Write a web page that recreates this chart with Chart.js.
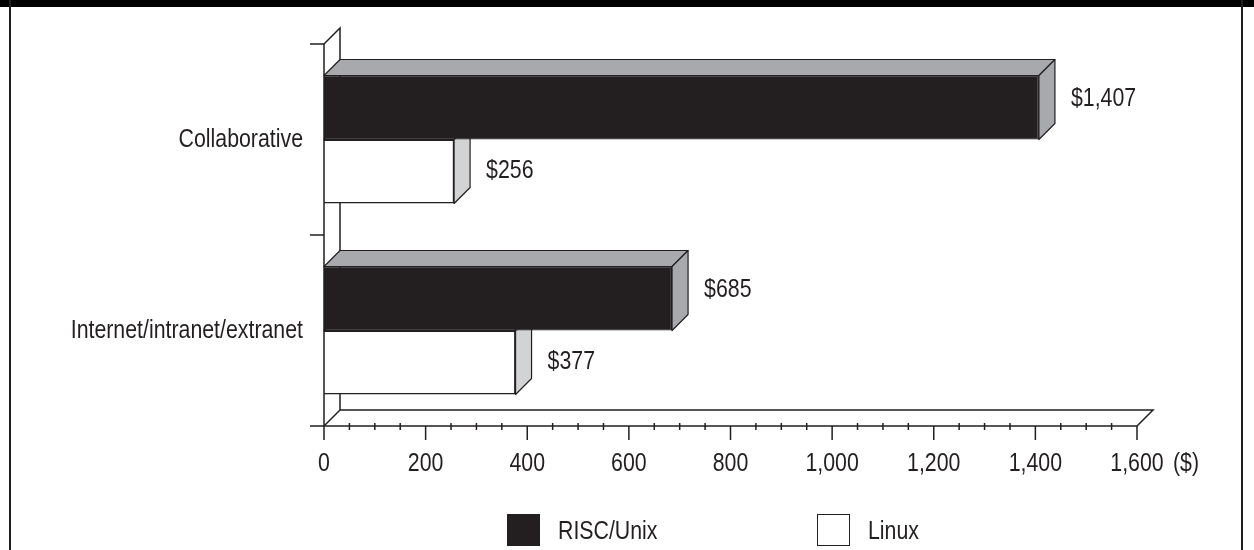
<!DOCTYPE html>
<html>
<head>
<meta charset="utf-8">
<script src="https://cdn.jsdelivr.net/npm/chart.js@4.4.1/dist/chart.umd.min.js"></script>
<style>
  html, body { margin: 0; padding: 0; background: #fff; }
  #wrap { position: relative; width: 1254px; height: 550px; overflow: hidden; background: #fff; }
  #chart { position: absolute; left: 0; top: 0; }
  .band { position: absolute; left: 0; top: 0; width: 1254px; height: 7px; background: #000; }
  .edge { position: absolute; top: 0; width: 2px; height: 550px; background: #231f20; }
  .legend { position: absolute; top: 514px; font: 26px 'Liberation Sans', Arial, sans-serif; color: #231f20; }
  .legend .box { position: absolute; left: 0; top: 0; width: 33px; height: 32px; box-sizing: border-box; }
  .legend .txt { position: absolute; left: 51px; top: 0; line-height: 32px; white-space: nowrap;
                 transform: scaleX(0.82); transform-origin: left center; }
</style>
</head>
<body>
<div id="wrap">
  <canvas id="chart" width="1254" height="550"></canvas>
  <div class="band"></div>
  <div class="edge" style="left:9px"></div>
  <div class="edge" style="left:1241px"></div>
  <div class="legend" style="left:507px"><div class="box" style="background:#231f20"></div><div class="txt">RISC/Unix</div></div>
  <div class="legend" style="left:817px"><div class="box" style="background:#fff;border:1.5px solid #231f20"></div><div class="txt">Linux</div></div>
</div>
<script>
const categories = ["Collaborative", "Internet/intranet/extranet"];
const seriesNames = ["RISC/Unix", "Linux"];
const riscUnix = [1407, 685];
const linux = [256, 377];
const xTickValues = [0, 200, 400, 600, 800, 1000, 1200, 1400, 1600];
const xUnit = "($)";

const FONT = "'Liberation Sans', Arial, sans-serif";
const INK = "#231f20";
const DEPTH = 16;
const NARROW = 0.82;   // horizontal squeeze for all canvas text

// face colours for each dataset
const shades = [
    { top: "#a7a9ac", side: "#a7a9ac", labelShift: -9 },
    { top: "#d1d3d4", side: "#d1d3d4", labelShift: -1 }
];

function money(v) {
    return "$" + v.toLocaleString("en-US");
}

function poly(ctx, pts, fill) {
    ctx.beginPath();
    ctx.moveTo(pts[0][0], pts[0][1]);
    for (let i = 1; i < pts.length; i++) ctx.lineTo(pts[i][0], pts[i][1]);
    ctx.closePath();
    ctx.fillStyle = fill;
    ctx.fill();
    ctx.stroke();
}

const box3d = {
    id: "box3d",
    beforeDatasetsDraw(chart) {
        // back wall and floor outline
        const { ctx, chartArea: a } = chart;
        ctx.save();
        ctx.strokeStyle = INK;
        ctx.lineWidth = 1.5;
        ctx.beginPath();
        ctx.moveTo(a.left, a.top);
        ctx.lineTo(a.left + DEPTH, a.top - DEPTH);
        ctx.lineTo(a.left + DEPTH, a.bottom - DEPTH);
        ctx.lineTo(a.right + DEPTH, a.bottom - DEPTH);
        ctx.lineTo(a.right, a.bottom);
        ctx.moveTo(a.left + DEPTH, a.bottom - DEPTH);
        ctx.lineTo(a.left, a.bottom);
        ctx.stroke();
        ctx.restore();
    },
    afterDatasetDraw(chart, args) {
        const ctx = chart.ctx;
        const shade = shades[args.index];
        ctx.save();
        ctx.strokeStyle = INK;
        ctx.lineWidth = 1.2;
        ctx.lineJoin = "round";
        args.meta.data.forEach(bar => {
            const p = bar.getProps(["x", "y", "base", "height"], true);
            const t = p.y - p.height / 2;
            const b = p.y + p.height / 2;
            poly(ctx, [[p.base, t], [p.base + DEPTH, t - DEPTH], [p.x + DEPTH, t - DEPTH], [p.x, t]], shade.top);
            poly(ctx, [[p.x, t], [p.x + DEPTH, t - DEPTH], [p.x + DEPTH, b - DEPTH], [p.x, b]], shade.side);
        });
        ctx.restore();
    },
    afterDraw(chart) {
        const { ctx, chartArea: a, scales } = chart;
        const xs = scales.x;
        ctx.save();
        ctx.strokeStyle = INK;
        ctx.lineWidth = 1.5;
        ctx.beginPath();
        // value axis with major and minor ticks
        ctx.moveTo(a.left - 14, a.bottom);
        ctx.lineTo(a.right, a.bottom);
        const last = xTickValues[xTickValues.length - 1];
        const step = xTickValues[1] - xTickValues[0];
        for (let v = 0; v <= last; v += step / 4) {
            const px = xs.getPixelForValue(v);
            if (v % step === 0) {
                ctx.moveTo(px, a.bottom);
                ctx.lineTo(px, a.bottom + 14);
            } else {
                ctx.moveTo(px, a.bottom - 3);
                ctx.lineTo(px, a.bottom + 4);
            }
        }
        // category axis with boundary ticks
        ctx.moveTo(a.left, a.top);
        ctx.lineTo(a.left, a.bottom);
        const n = categories.length;
        for (let i = 0; i <= n; i++) {
            const py = a.top + i * (a.bottom - a.top) / n;
            ctx.moveTo(a.left - 14, py);
            ctx.lineTo(a.left, py);
        }
        ctx.stroke();

        // value labels beside each bar
        ctx.fillStyle = INK;
        ctx.font = "26px " + FONT;
        ctx.textAlign = "left";
        ctx.textBaseline = "middle";
        chart.data.datasets.forEach((ds, di) => {
            chart.getDatasetMeta(di).data.forEach((bar, i) => {
                ctx.fillText(money(ds.data[i]), bar.x + DEPTH + 16, bar.y + shades[di].labelShift);
            });
        });

        // unit after the last tick
        ctx.fillText(xUnit, xs.getPixelForValue(last) + 36, a.bottom + 38);
        ctx.restore();
    }
};

Chart.defaults.font.family = FONT;
Chart.defaults.font.size = 26;
Chart.defaults.color = INK;

const ctx = document.getElementById("chart").getContext("2d");

// squeeze every label around its anchor so the face reads as a narrow sans
const rawFillText = ctx.fillText;
ctx.fillText = function (text, x, y) {
    this.save();
    this.translate(x, y);
    this.scale(NARROW, 1);
    rawFillText.call(this, text, 0, 0);
    this.restore();
};

const chart = new Chart(ctx, {
    type: "bar",
    data: {
        labels: categories,
        datasets: [{
            label: seriesNames[0],
            data: riscUnix,
            backgroundColor: INK,
            borderColor: INK,
            borderWidth: 1.2
        }, {
            label: seriesNames[1],
            data: linux,
            backgroundColor: "#ffffff",
            borderColor: INK,
            borderWidth: 1.5
        }]
    },
    options: {
        indexAxis: "y",
        responsive: false,
        animation: false,
        categoryPercentage: 0.67,
        barPercentage: 1.0,
        layout: {
            padding: { top: 44, right: 117, left: 0, bottom: 0 }
        },
        plugins: {
            legend: { display: false },
            tooltip: { enabled: false }
        },
        scales: {
            x: {
                min: 0,
                max: 1600,
                grid: { display: false, drawTicks: false },
                border: { display: false },
                ticks: {
                    padding: 22,
                    maxRotation: 0,
                    autoSkip: false,
                    callback: v => v.toLocaleString("en-US")
                },
                afterBuildTicks: s => { s.ticks = xTickValues.map(v => ({ value: v })); },
                afterFit: s => { s.height = 124; }
            },
            y: {
                grid: { display: false, drawTicks: false },
                border: { display: false },
                ticks: { padding: 21 },
                afterFit: s => { s.width = 324; }
            }
        }
    },
    plugins: [box3d]
});
</script>
</body>
</html>
